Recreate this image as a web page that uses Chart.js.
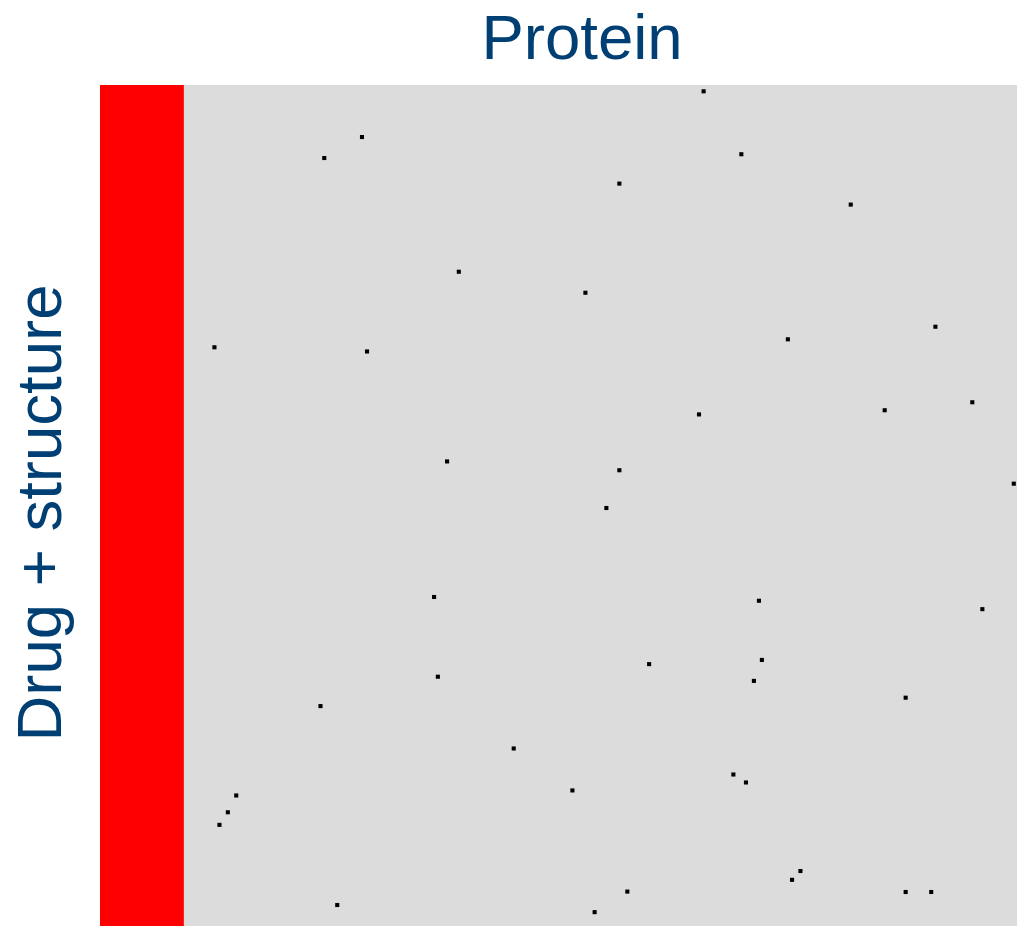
<!DOCTYPE html>
<html>
<head>
<meta charset="utf-8">
<title>Protein vs Drug + structure</title>
<script src="https://cdn.jsdelivr.net/npm/chart.js@4/dist/chart.umd.min.js"></script>
<style>
  html, body { margin: 0; padding: 0; background: #fff; overflow: hidden; }
  canvas { display: block; }
</style>
</head>
<body>
<canvas id="matrix" width="1067" height="944"></canvas>
<script>
// Interaction matrix: protein columns across, drug + structure rows down.
const PROTEIN_COUNT = 230;
const DRUG_COUNT = 204;

// Leading block of protein columns that is fully flagged (drawn solid red).
const flaggedColumns = [0, 20];

// Individual hits: protein column and drug row of each marked cell.
const hitProtein = [144.0, 62.5, 53.5, 153.0, 123.9, 179.1, 85.6, 115.8, 199.3, 27.3, 63.7, 164.1,
  142.9, 187.2, 208.1, 82.8, 123.9, 218.0, 120.8, 79.7, 157.2, 210.5, 131.0, 157.9, 80.6, 156.0,
  192.2, 52.6, 98.7, 151.1, 154.1, 112.7, 32.5, 30.5, 28.5, 167.1, 165.1, 125.8, 192.2, 198.3,
  56.6, 118.0];
const hitDrug = [1.5, 12.4, 17.4, 16.5, 23.5, 28.5, 44.5, 49.5, 57.6, 62.5, 63.5, 60.6,
  78.5, 77.5, 75.6, 89.7, 91.8, 95.0, 100.8, 122.0, 122.9, 124.9, 138.0, 137.0, 141.0, 142.0,
  146.0, 148.0, 158.1, 164.3, 166.2, 168.1, 169.3, 173.3, 176.3, 187.3, 189.4, 192.2, 192.3, 192.3,
  195.4, 197.1];

const NAVY = '#003f73', RED = '#ff0000', GREY = '#dcdcdc';
const FONT = "'Liberation Sans', Arial, sans-serif";

// grey matrix background + red flagged block, placed through the scales
const matrixBackground = {
  id: 'matrixBackground',
  beforeDatasetsDraw(chart) {
    const { ctx, chartArea: a, scales: { x } } = chart;
    ctx.save();
    ctx.fillStyle = GREY;
    ctx.fillRect(a.left, a.top, a.right - a.left, a.bottom - a.top);
    const x0 = x.getPixelForValue(flaggedColumns[0]);
    const x1 = x.getPixelForValue(flaggedColumns[1]);
    ctx.fillStyle = RED;
    ctx.fillRect(x0, a.top, x1 - x0, a.bottom - a.top);
    ctx.restore();
  },
};

new Chart(document.getElementById('matrix'), {
  type: 'scatter',
  data: {
    datasets: [{
      data: hitProtein.map((p, i) => ({ x: p, y: hitDrug[i] })),
      pointStyle: 'rect',
      pointRadius: 2.9,
      pointHoverRadius: 2.9,
      borderWidth: 0,
      backgroundColor: '#000',
    }],
  },
  options: {
    responsive: false,
    animation: false,
    events: [],
    layout: { padding: 0 },
    plugins: {
      legend: { display: false },
      tooltip: { enabled: false },
      title: {
        display: true, text: 'Protein', fullSize: false, color: NAVY,
        font: { family: FONT, size: 63.5, weight: 'normal', lineHeight: 1.2 },
        padding: { top: 3, bottom: 5.8 },
      },
    },
    scales: {
      x: { type: 'linear', min: 0, max: PROTEIN_COUNT, display: false },
      y: {
        type: 'linear', min: 0, max: DRUG_COUNT, reverse: true,
        ticks: { display: false },
        grid: { display: false, drawTicks: false },
        border: { display: false },
        title: {
          display: true, text: 'Drug + structure', color: NAVY,
          font: { family: FONT, size: 63.5, weight: 'normal', lineHeight: 1.2 },
          padding: { top: 5, bottom: 18.8 },
        },
      },
    },
  },
  plugins: [matrixBackground],
});
</script>
</body>
</html>
